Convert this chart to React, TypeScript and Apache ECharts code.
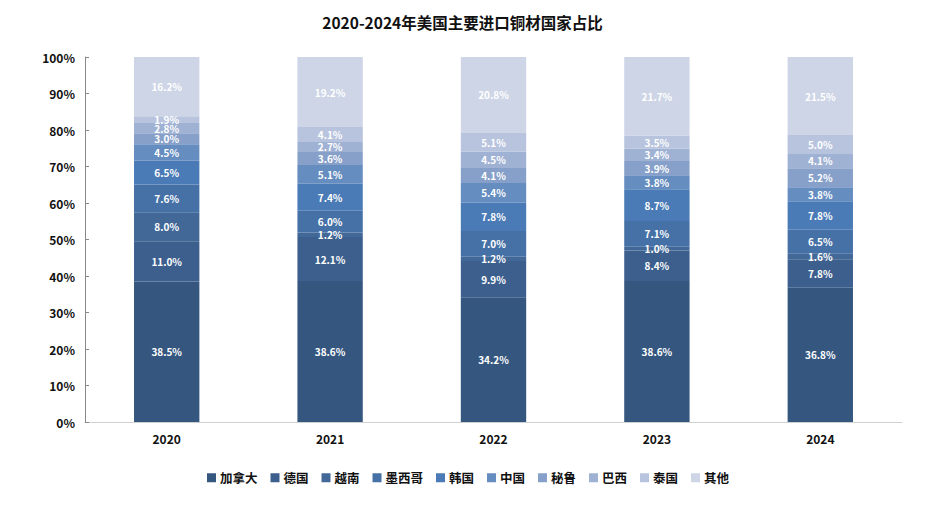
import React, { useEffect, useRef } from "react";
import * as echarts from "echarts";

const years = ["2020", "2021", "2022", "2023", "2024"];
const countries = ["加拿大", "德国", "越南", "墨西哥", "韩国", "中国", "秘鲁", "巴西", "泰国", "其他"];
const canada = [38.5, 38.6, 34.2, 38.6, 36.8];
const germany = [11.0, 12.1, 9.9, 8.4, 7.8];
const vietnam = [8.0, 1.2, 1.2, 1.0, 1.6];
const mexico = [7.6, 6.0, 7.0, 7.1, 6.5];
const korea = [6.5, 7.4, 7.8, 8.7, 7.8];
const china = [4.5, 5.1, 5.4, 3.8, 3.8];
const peru = [3.0, 3.6, 4.1, 3.9, 5.2];
const brazil = [2.8, 2.7, 4.5, 3.4, 4.1];
const thailand = [1.9, 4.1, 5.1, 3.5, 5.0];
const others = [16.2, 19.2, 20.8, 21.7, 21.5];
const yTicks = [0, 10, 20, 30, 40, 50, 60, 70, 80, 90, 100];

const seriesValues = [canada, germany, vietnam, mexico, korea, china, peru, brazil, thailand, others];
const colors = [
  "#35577f",
  "#3c5f8e",
  "#426898",
  "#4671a6",
  "#4a7bb6",
  "#658dc0",
  "#87a0c9",
  "#a0b2d4",
  "#b8c4de",
  "#cdd5e6",
];

const FONT = "'Noto Sans CJK SC', 'Noto Sans', sans-serif";

export default function App() {
  const ref = useRef<HTMLDivElement>(null);
  useEffect(() => {
    document.body.style.margin = "0";
    if (!ref.current) return;
    const chart = echarts.init(ref.current, undefined, { renderer: "svg" });
    chart.setOption({
      animation: false,
      textStyle: { fontFamily: FONT },
      title: {
        text: "2020-2024年美国主要进口铜材国家占比",
        left: "center",
        top: 9,
        textStyle: { fontSize: 15.5, fontWeight: "bold", color: "#111", fontFamily: FONT },
      },
      legend: {
        bottom: 27,
        left: 202,
        itemWidth: 9,
        itemHeight: 9,
        itemGap: 13,
        icon: "rect",
        data: countries,
        textStyle: { fontSize: 12.5, fontWeight: "bold", color: "#111", fontFamily: FONT, padding: [0, 0, 0, -1] },
      },
      grid: { left: 85, right: 23, top: 57, bottom: 94, containLabel: false },
      xAxis: {
        type: "category",
        data: years,
        axisLine: { lineStyle: { color: "#d0d0d0" } },
        axisTick: { show: false },
        axisLabel: { fontSize: 12, fontWeight: "bold", color: "#111", margin: 10, fontFamily: FONT },
      },
      yAxis: {
        type: "value",
        min: 0,
        max: 100,
        interval: 10,
        splitLine: { show: false },
        axisLine: { show: true, lineStyle: { color: "#888" } },
        axisTick: { show: true, inside: true, length: 4, lineStyle: { color: "#888" } },
        axisLabel: {
          fontSize: 12,
          fontWeight: "bold",
          color: "#111",
          margin: 10,
          fontFamily: FONT,
          formatter: (v: number) => (yTicks.includes(v) ? v + "%" : ""),
        },
      },
      series: seriesValues.map((vals, i) => ({
        name: countries[i],
        type: "bar",
        stack: "total",
        barWidth: "40%",
        data: vals,
        itemStyle: { color: colors[i] },
        label: {
          show: true,
          position: "inside",
          color: "#fff",
          fontSize: 10,
          fontWeight: "bold",
          fontFamily: FONT,
          formatter: (p: any) => Number(p.value).toFixed(1) + "%",
        },
      })),
    });
    return () => chart.dispose();
  }, []);
  return <div ref={ref} style={{ width: 925, height: 516 }} />;
}
